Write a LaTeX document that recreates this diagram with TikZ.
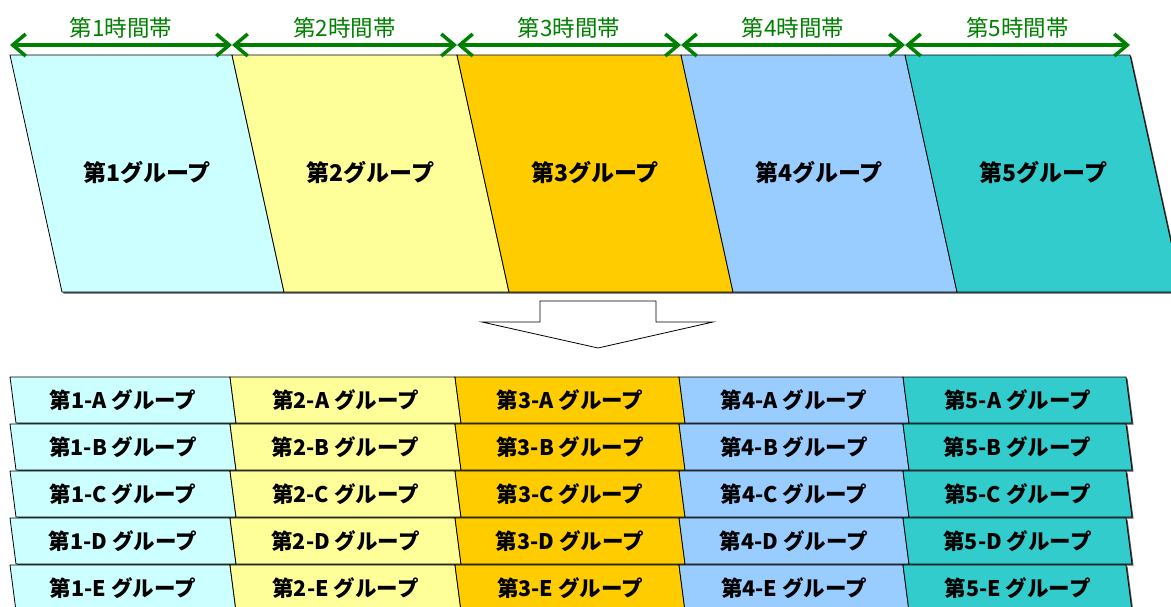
\documentclass[tikz,border=0pt]{standalone}
\usepackage{fontspec}
\setmainfont{Noto Sans CJK JP}
\usetikzlibrary{arrows.meta,shadows}
\definecolor{grpA}{HTML}{CCFFFF}
\definecolor{grpB}{HTML}{FFFF99}
\definecolor{grpC}{HTML}{FFCC00}
\definecolor{grpD}{HTML}{99CCFF}
\definecolor{grpE}{HTML}{33CCCC}
\definecolor{spangreen}{HTML}{008000}
\begin{document}
\begin{tikzpicture}[x=1pt,y=-1pt,
    band/.style={draw=black,line width=0.8pt,
        drop shadow={shadow xshift=1.5pt,shadow yshift=-1.5pt,fill=black!70,opacity=1}},
    span/.style={draw=spangreen,line width=3.5pt,
        {Straight Barb[length=13pt,width=22pt]}-{Straight Barb[length=13pt,width=22pt]}},
    spanlabel/.style={text=spangreen,font=\fontsize{22.5}{26}\selectfont,inner sep=0pt},
    grouplabel/.style={font=\bfseries\fontsize{23}{27}\selectfont,inner sep=0pt},
    sublabel/.style={font=\bfseries\fontsize{21.5}{25}\selectfont,inner sep=0pt}]
    \clip (0,0) rectangle (1171,606);
    % time slots and groups
    \coordinate (a0) at (10,45);
    \foreach \i/\xa/\xb/\col in {1/10/232/grpA,2/232/457/grpB,3/457/681/grpC,
                                 4/681/905/grpD,5/905/1130/grpE}{
        \filldraw[band,fill=\col] (\xa,55) -- (\xb,55) -- (\xb+52,292) -- (\xa+52,292) -- cycle;
        \node[grouplabel] (g\i) at ({(\xa+\xb)/2+26},173) {第\i{}グループ};
        \coordinate (a\i) at (\xb,45);
        \node[spanlabel] (s\i) at ({(\xa+\xb)/2},28) {第\i{}時間帯};
    };
    \foreach \i [evaluate = \i as \j using {int(\i-1)}] in {1,...,5}{
        \draw[span] (a\j) -- (a\i);
    };
    % block arrow
    \draw[line width=0.8pt,fill=white] (540,301) -- (656,301) -- (656,322) -- (713,322)
        -- (598,348) -- (482,322) -- (540,322) -- cycle;
    % sub groups
    \foreach \r [count=\k, evaluate = \k as \ya using {377+47*(\k-1)}] in {A,B,C,D,E}{
        \foreach \i/\xa/\xb/\col in {1/10/230/grpA,2/230/455/grpB,3/455/679/grpC,
                                     4/679/903/grpD,5/903/1126/grpE}{
            \filldraw[band,fill=\col] (\xa,\ya) -- (\xb,\ya) -- (\xb+6,\ya+46) -- (\xa+6,\ya+46) -- cycle;
            \node[sublabel] (c\i\r) at ({(\xa+\xb)/2+3},\ya+23) {第\i-\r{} グループ};
        };
    };
\end{tikzpicture}
\end{document}
